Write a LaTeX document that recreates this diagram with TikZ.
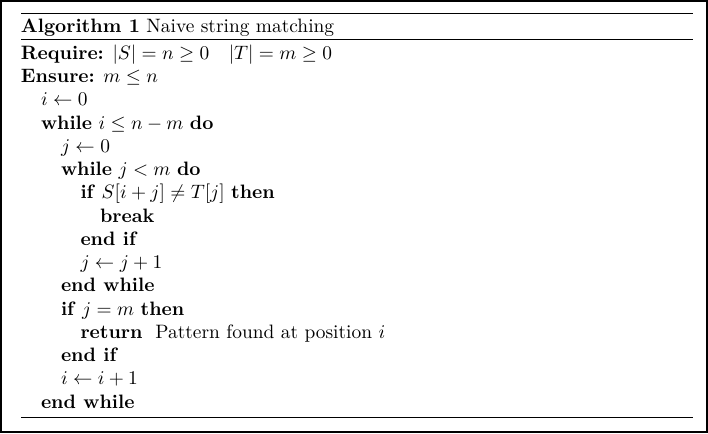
\documentclass[tikz,border=0pt]{standalone}
\usepackage{amsmath}
\usepackage{amsfonts}
\usepackage{xcolor}
\usepackage{tikz}

\tikzset{
	algline/.style={anchor=base west, inner sep=0pt, outer sep=0pt},
	algrule/.style={line width=0.5pt}
}

\begin{document}
\begin{tikzpicture}[x=0.5155pt, y=-0.5155pt]
	% Frame and rules
	\useasboundingbox (0,0) rectangle (708,433);
	\draw[line width=0.8pt] (0.8,0.8) rectangle (707.2,432.2);
	\draw[line width=0.8pt] (21,13.5) -- (693,13.5);
	\draw[algrule] (21,39.5) -- (693,39.5);
	\draw[algrule] (21,417) -- (693,417);
	% Caption
	\node[algline] (caption) at (21,32) {\textbf{Algorithm 1} Naive string matching};
	% Body
	\node[algline] (require) at (21,59.3) {\textbf{Require:} $|S| = n \geq 0 \quad |T| = m \geq 0$};
	\node[algline] (ensure) at (21,82.5) {\textbf{Ensure:} $m \leq n$};
	\node[algline] (initi) at (41,105.8) {$i \gets 0$};
	\node[algline] (outer) at (41,129) {\textbf{while} $i \leq n - m$ \textbf{do}};
	\node[algline] (initj) at (61,152.3) {$j \gets 0$};
	\node[algline] (inner) at (61,175.5) {\textbf{while} $j < m$ \textbf{do}};
	\node[algline] (test) at (80.5,198.8) {\textbf{if} $S[i+j] \neq T[j]$ \textbf{then}};
	\node[algline] (brk) at (100,222) {\textbf{break}};
	\node[algline] (endtest) at (80.5,245.3) {\textbf{end if}};
	\node[algline] (incj) at (80.5,268.5) {$j \gets j + 1$};
	\node[algline] (endinner) at (61,291.8) {\textbf{end while}};
	\node[algline] (found) at (61,315) {\textbf{if} $j = m$ \textbf{then}};
	\node[algline] (ret) at (80.5,338.3) {\textbf{return}\ \ Pattern found at position $i$};
	\node[algline] (endfound) at (61,361.5) {\textbf{end if}};
	\node[algline] (inci) at (61,384.8) {$i \gets i + 1$};
	\node[algline] (endouter) at (41,408) {\textbf{end while}};
\end{tikzpicture}
\end{document}
